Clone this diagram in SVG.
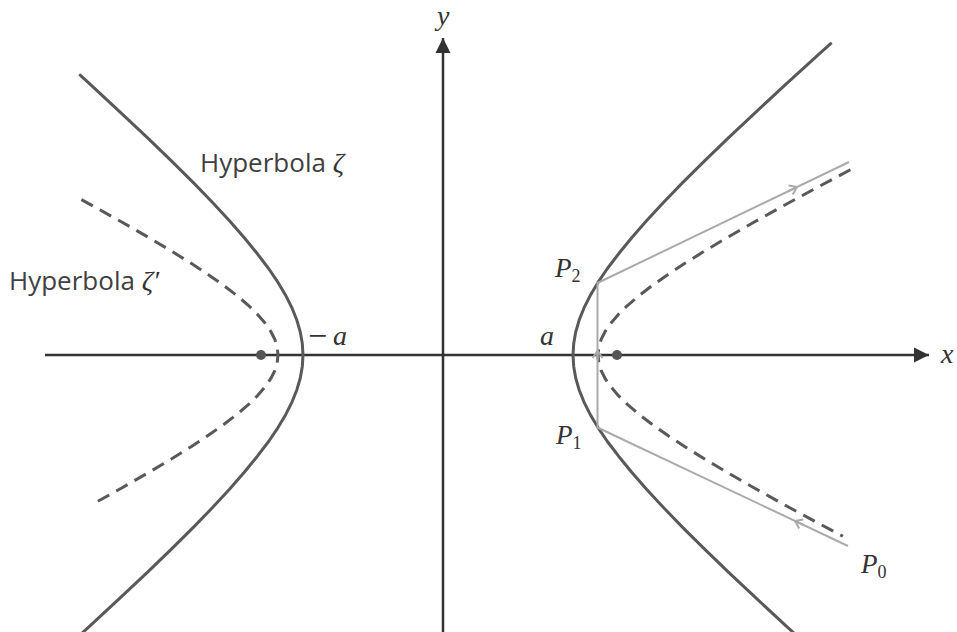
<svg xmlns="http://www.w3.org/2000/svg" width="957" height="632" viewBox="0 0 957 632">
<style>
.curve{fill:none;stroke:#595959;stroke-width:3;stroke-linejoin:round;stroke-linecap:round}
.dash{fill:none;stroke:#595959;stroke-width:3;stroke-dasharray:13 8;stroke-linejoin:round}
.axis{fill:none;stroke:#333;stroke-width:2.5}
.ray{fill:none;stroke:#aaaaaa;stroke-width:2;stroke-linejoin:miter}
.math{font-family:"Liberation Serif","DejaVu Serif",serif;font-style:italic;fill:#333}
.up{font-style:normal}
.lbl{font-family:"Open Sans","Liberation Sans",sans-serif;font-size:26px;fill:#404040}
.focus{fill:#555}
</style>
<defs>
<marker id="tri" markerUnits="userSpaceOnUse" viewBox="-16 -8 17 16" refX="0" refY="0" markerWidth="17" markerHeight="16" orient="auto">
<path d="M-15,-7.5 L0,0 L-15,7.5 Z" fill="#333"/>
</marker>
<marker id="chev" markerUnits="userSpaceOnUse" viewBox="-10 -7 12 14" refX="0" refY="0" markerWidth="12" markerHeight="14" orient="auto">
<path d="M-7,-5 L0,0 L-7,5" fill="none" stroke="#aaaaaa" stroke-width="2"/>
</marker>
</defs>

<g id="axes">
<line class="axis" x1="45" y1="355" x2="929" y2="355" marker-end="url(#tri)"/>
<line class="axis" x1="443" y1="632" x2="443" y2="38" marker-end="url(#tri)"/>
</g>

<g id="hyperbola-zeta">
<polyline class="curve" points="830.7,43.6 819.8,53.4 786.0,84.2 755.6,112.3 728.4,137.9 704.1,161.4 682.4,182.9 663.2,202.7 646.3,221.0 631.5,238.0 618.6,253.8 607.4,268.5 598.0,282.4 590.2,295.6 583.9,308.2 579.1,320.3 575.7,332.1 573.7,343.6 573.0,355 573.7,366.4 575.7,378.0 579.1,389.7 583.9,401.8 590.2,414.4 598.0,427.6 607.4,441.5 618.6,456.2 631.5,472.0 646.3,489.0 663.2,507.3 682.4,527.1 704.1,548.6 728.4,572.1 755.6,597.7 786.0,625.8 795.8,634.8"/>
<polyline class="curve" points="80.2,75.2 90.0,84.2 120.4,112.3 147.6,137.9 171.9,161.4 193.6,182.9 212.8,202.7 229.7,221.0 244.5,238.0 257.4,253.8 268.6,268.5 278.0,282.4 285.8,295.6 292.1,308.2 296.9,320.3 300.3,332.1 302.3,343.6 303.0,355 302.3,366.4 300.3,378.0 296.9,389.7 292.1,401.8 285.8,414.4 278.0,427.6 268.6,441.5 257.4,456.2 244.5,472.0 229.7,489.0 212.8,507.3 193.6,527.1 171.9,548.6 147.6,572.1 120.4,597.7 90.0,625.8 80.2,634.8"/>
</g>

<g id="hyperbola-zeta-prime">
<polyline class="dash" points="850.4,169.7 814.4,188.9 782.1,206.5 753.4,222.5 727.7,237.3 705.0,250.8 684.9,263.3 667.3,274.9 652.0,285.7 638.8,295.8 627.7,305.3 618.4,314.4 611.0,323.0 605.3,331.3 601.2,339.3 598.8,347.2 598.0,355 598.8,362.8 601.2,370.7 605.3,378.8 611.0,387.0 618.4,395.7 627.7,404.7 638.8,414.2 652.0,424.3 667.3,435.1 684.9,446.7 705.0,459.2 727.7,472.7 753.4,487.5 782.1,503.5 814.4,521.1 842.9,536.3"/>
<polyline class="dash" points="81.4,199.6 93.9,206.5 122.6,222.5 148.3,237.3 171.0,250.8 191.1,263.3 208.7,274.9 224.0,285.7 237.2,295.8 248.3,305.3 257.6,314.4 265.0,323.0 270.7,331.3 274.8,339.3 277.2,347.2 278.0,355 277.2,362.8 274.8,370.7 270.7,378.7 265.0,387.0 257.6,395.6 248.3,404.7 237.2,414.2 224.0,424.3 208.7,435.1 191.1,446.7 171.0,459.2 148.3,472.7 122.6,487.5 93.9,503.5"/>
</g>

<g id="foci">
<circle class="focus" cx="261" cy="355" r="5"/>
<circle class="focus" cx="617" cy="355" r="5"/>
</g>

<g id="connectors">
<polyline class="ray" points="848,546 597.5,427.5 597.5,283 849,162"/>
<line class="ray" x1="788" y1="191.3" x2="797" y2="187" marker-end="url(#chev)"/>
<line class="ray" x1="804" y1="525.2" x2="795" y2="520.9" marker-end="url(#chev)"/>
<line class="ray" x1="597.5" y1="360" x2="597.5" y2="351" marker-end="url(#chev)"/>
</g>

<g id="labels">
<text class="math" x="437" y="25" font-size="28">y</text>
<text class="math" x="941" y="363" font-size="28">x</text>
<text class="math" x="308" y="345" font-size="28"><tspan class="up" font-size="34" dy="2">−</tspan><tspan x="333" dy="-2">a</tspan></text>
<text class="math" x="540" y="345" font-size="28">a</text>
<text class="math" x="555" y="277" font-size="27">P<tspan class="up" font-size="18" dy="5">2</tspan></text>
<text class="math" x="556" y="444" font-size="27">P<tspan class="up" font-size="18" dy="5">1</tspan></text>
<text class="math" x="861" y="573" font-size="27">P<tspan class="up" font-size="18" dy="5">0</tspan></text>
<text class="lbl" x="200" y="172">Hyperbola <tspan class="math" font-size="28">ζ</tspan></text>
<text class="lbl" x="9" y="290">Hyperbola <tspan class="math" font-size="28">ζ′</tspan></text>
</g>
</svg>
